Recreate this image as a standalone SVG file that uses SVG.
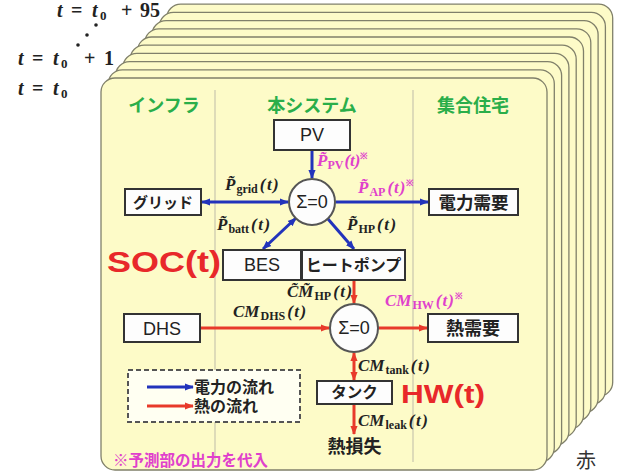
<svg xmlns="http://www.w3.org/2000/svg" width="618" height="472" viewBox="0 0 618 472">
<style>
.pg{fill:#fdfbc8;stroke:#80806a;stroke-width:1.3}
.box{fill:#fdfdfd;stroke:#333;stroke-width:2}
.sum{fill:#fdfdfd;stroke:#555;stroke-width:2}
.div{stroke:#c9c7ad;stroke-width:1.2}
.jp{font-family:"Noto Sans CJK JP","Noto Sans",sans-serif;font-weight:bold;fill:#222;text-anchor:middle}
.hd{font-family:"Noto Sans CJK JP","Noto Sans",sans-serif;font-weight:bold;fill:#2aae4a;font-size:18px;text-anchor:middle}
.en{font-family:"Liberation Sans",Arial,sans-serif;fill:#222;font-size:18px;text-anchor:middle}
.m{font-family:"Liberation Serif","Times New Roman",serif;font-weight:bold;font-style:italic;font-size:17px;fill:#222}
.mg{fill:#e040cc}
.sb{font-size:12px;font-style:normal}
.sp{font-size:9px;font-style:normal}
.big{font-family:"Liberation Sans",Arial,sans-serif;font-weight:bold;fill:#e8282a}
.tt{font-family:"Liberation Serif","Times New Roman",serif;font-weight:bold;font-size:20px;fill:#222}
.b{stroke:#2233bb;stroke-width:3;fill:none}
.r{stroke:#e83a2a;stroke-width:3;fill:none}
</style>
<defs>
<marker id="ab" viewBox="0 0 10 10" refX="9" refY="5" markerWidth="9" markerHeight="9" markerUnits="userSpaceOnUse" orient="auto-start-reverse"><path d="M0,1 L10,5 L0,9 Z" fill="#2233bb"/></marker>
<marker id="ar" viewBox="0 0 10 10" refX="9" refY="5" markerWidth="9" markerHeight="9" markerUnits="userSpaceOnUse" orient="auto-start-reverse"><path d="M0,1 L10,5 L0,9 Z" fill="#e83a2a"/></marker>
</defs>

<g id="time-labels">
<text class="tt" y="17"><tspan x="57" font-style="italic">t</tspan><tspan x="71">=</tspan><tspan x="92" font-style="italic">t</tspan><tspan x="100" dy="3" font-size="13">0</tspan><tspan x="121" dy="-3">+</tspan><tspan x="140">95</tspan></text>
<circle cx="78" cy="45" r="1.8" fill="#222"/><circle cx="87" cy="35" r="1.8" fill="#222"/><circle cx="96" cy="25" r="1.8" fill="#222"/>
<text class="tt" y="65"><tspan x="18" font-style="italic">t</tspan><tspan x="32">=</tspan><tspan x="53" font-style="italic">t</tspan><tspan x="61" dy="3" font-size="13">0</tspan><tspan x="84" dy="-3">+</tspan><tspan x="104">1</tspan></text>
<text class="tt" y="95"><tspan x="18" font-style="italic">t</tspan><tspan x="32">=</tspan><tspan x="53" font-style="italic">t</tspan><tspan x="61" dy="3" font-size="13">0</tspan></text>
</g>

<g id="pages">
<rect class="pg" x="166.7" y="4.2" width="446" height="392" rx="14"/>
<rect class="pg" x="159.4" y="12.4" width="446" height="392" rx="14"/>
<rect class="pg" x="152.1" y="20.6" width="446" height="392" rx="14"/>
<rect class="pg" x="144.8" y="28.8" width="446" height="392" rx="14"/>
<rect class="pg" x="137.5" y="37" width="446" height="392" rx="14"/>
<rect class="pg" x="130.2" y="45.2" width="446" height="392" rx="14"/>
<rect class="pg" x="122.9" y="53.4" width="446" height="392" rx="14"/>
<rect class="pg" x="115.6" y="61.6" width="446" height="392" rx="14"/>
<rect class="pg" x="108.3" y="69.8" width="446" height="392" rx="14"/>
<rect class="pg" x="101" y="78" width="446" height="392" rx="14"/>
<line class="div" x1="215" y1="90" x2="215" y2="462"/>
<line class="div" x1="413" y1="90" x2="413" y2="462"/>
<text class="hd" x="164" y="112">インフラ</text>
<text class="hd" x="312" y="112">本システム</text>
<text class="hd" x="473" y="112">集合住宅</text>
</g>

<g id="connectors">
<line class="b" x1="312" y1="150" x2="312" y2="178" marker-end="url(#ab)"/>
<line class="b" x1="202" y1="202" x2="288" y2="202" marker-start="url(#ab)" marker-end="url(#ab)"/>
<line class="b" x1="336" y1="202" x2="428" y2="202" marker-end="url(#ab)"/>
<line class="b" x1="263" y1="249" x2="296" y2="218" marker-start="url(#ab)" marker-end="url(#ab)"/>
<line class="b" x1="328" y1="219" x2="354" y2="249" marker-end="url(#ab)"/>
<line class="r" x1="354" y1="280" x2="354" y2="303" marker-end="url(#ar)"/>
<line class="r" x1="201" y1="328" x2="329" y2="328" marker-end="url(#ar)"/>
<line class="r" x1="378" y1="328" x2="427" y2="328" marker-end="url(#ar)"/>
<line class="r" x1="354" y1="353" x2="354" y2="380" marker-start="url(#ar)" marker-end="url(#ar)"/>
<line class="r" x1="354" y1="404" x2="354" y2="434" marker-end="url(#ar)"/>
</g>

<g id="labels">
<text class="m mg" x="317" y="166">P&#x303;<tspan class="sb" dy="3">PV</tspan><tspan dy="-3" dx="1">(t)</tspan><tspan class="sp" dy="-7">※</tspan></text>
<text class="m" x="225" y="190">P&#x303;<tspan class="sb" dy="3" dx="1">grid</tspan><tspan dy="-3" dx="2" letter-spacing="1.5">(t)</tspan></text>
<text class="m mg" x="358" y="193">P&#x303;<tspan class="sb" dy="3" dx="1">AP</tspan><tspan dy="-3" dx="2" letter-spacing="1">(t)</tspan><tspan class="sp" dy="-7">※</tspan></text>
<text class="m" x="217" y="230">P&#x303;<tspan class="sb" dy="3" dx="1">batt</tspan><tspan dy="-3" dx="2" letter-spacing="1.5">(t)</tspan></text>
<text class="m" x="347" y="230">P&#x303;<tspan class="sb" dy="3" dx="1">HP</tspan><tspan dy="-3" dx="2" letter-spacing="1.5">(t)</tspan></text>
<text class="m" x="287" y="297">C&#x303;M&#x303;<tspan class="sb" dy="3" dx="1">HP</tspan><tspan dy="-3" dx="2" letter-spacing="1.5">(t)</tspan></text>
<text class="m" x="233" y="317">CM<tspan class="sb" dy="3" dx="1">DHS</tspan><tspan dy="-3" dx="2" letter-spacing="1.5">(t)</tspan></text>
<text class="m mg" x="385" y="306">CM<tspan class="sb" dy="3" dx="1">HW</tspan><tspan dy="-3" dx="2" letter-spacing="1">(t)</tspan><tspan class="sp" dy="-7">※</tspan></text>
<text class="m" x="358" y="371">CM<tspan class="sb" dy="3" dx="1">tank</tspan><tspan dy="-3" dx="2" letter-spacing="1.5">(t)</tspan></text>
<text class="m" x="358" y="426">CM<tspan class="sb" dy="3" dx="1">leak</tspan><tspan dy="-3" dx="2" letter-spacing="1.5">(t)</tspan></text>
<text class="big" x="107" y="272" font-size="29" textLength="114" lengthAdjust="spacingAndGlyphs">SOC(t)</text>
<text class="big" x="401" y="403" font-size="25" textLength="84" lengthAdjust="spacingAndGlyphs">HW(t)</text>
</g>

<g id="pv"><rect class="box" x="274" y="120" width="76" height="30"/><text class="en" x="312" y="141">PV</text></g>
<g id="sum1"><circle class="sum" cx="312" cy="202" r="23"/><text class="en" x="312" y="208">Σ=0</text></g>
<g id="grid"><rect class="box" x="125" y="189" width="76" height="26"/><text class="jp" x="163" y="207.5" font-size="15">グリッド</text></g>
<g id="power-demand"><rect class="box" x="429" y="189" width="89" height="26"/><text class="jp" x="473.5" y="208.5" font-size="17.5">電力需要</text></g>
<g id="bes"><rect class="box" x="223" y="250" width="78" height="30"/><text class="en" x="262" y="271">BES</text></g>
<g id="heatpump"><rect class="box" x="302" y="250" width="103" height="30"/><text class="jp" x="353.5" y="270.5" font-size="16">ヒートポンプ</text></g>
<g id="dhs"><rect class="box" x="124" y="314" width="76" height="28"/><text class="en" x="162" y="334.5">DHS</text></g>
<g id="sum2"><circle class="sum" cx="354" cy="328" r="24"/><text class="en" x="354" y="334">Σ=0</text></g>
<g id="heat-demand"><rect class="box" x="428" y="314" width="90" height="28"/><text class="jp" x="473" y="334.5" font-size="18">熱需要</text></g>
<g id="tank"><rect class="box" x="317" y="381" width="75" height="23"/><text class="jp" x="354.5" y="398" font-size="15.5">タンク</text></g>
<g id="heat-loss"><text class="jp" x="354.5" y="453" font-size="18">熱損失</text></g>

<g id="legend">
<rect x="128" y="370" width="172" height="52" fill="#fffff2" stroke="#555" stroke-width="2" stroke-dasharray="5 3"/>
<line class="b" x1="147" y1="387" x2="193" y2="387" marker-end="url(#ab)"/>
<line class="r" x1="147" y1="406" x2="193" y2="406" marker-end="url(#ar)"/>
<text class="jp" x="194" y="392.5" font-size="16" style="text-anchor:start">電力の流れ</text>
<text class="jp" x="194" y="411.5" font-size="16" style="text-anchor:start">熱の流れ</text>
</g>

<g id="note">
<text class="jp" x="113" y="466" font-size="15.5" style="text-anchor:start;fill:#e040cc">※予測部の出力を代入</text>
<text x="576" y="468" font-family="Noto Sans CJK JP,Noto Sans,sans-serif" font-size="20" fill="#333">赤</text>
</g>
</svg>
